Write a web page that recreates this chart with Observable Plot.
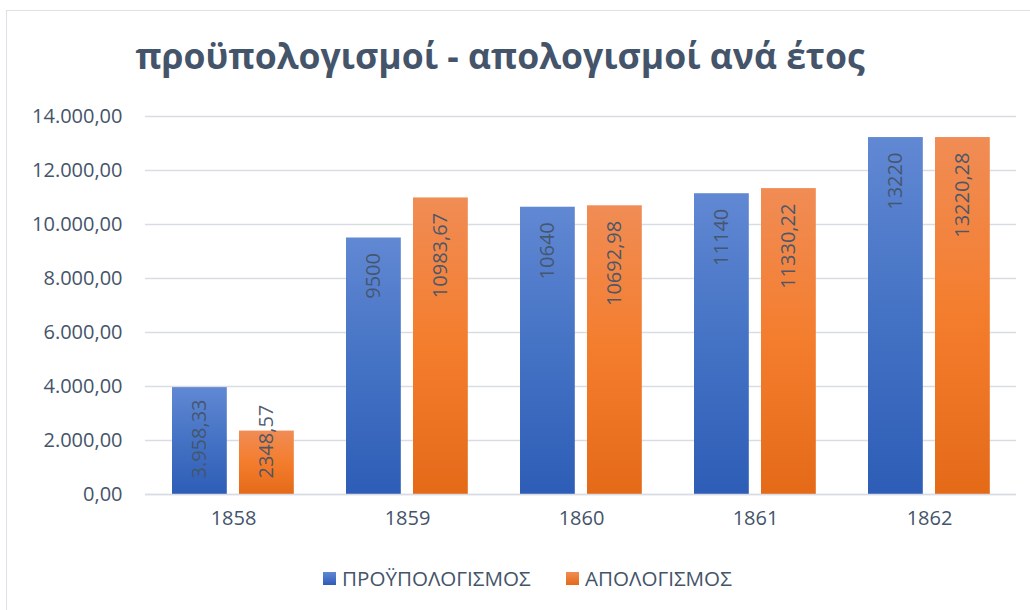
<!DOCTYPE html>
<html>
<head>
<meta charset="utf-8">
<script src="https://cdn.jsdelivr.net/npm/d3@7"></script>
<script src="https://cdn.jsdelivr.net/npm/@observablehq/plot@0.6"></script>
<style>
  html, body { margin: 0; padding: 0; background: #fff; width: 1030px; height: 610px; overflow: hidden; }
  body { position: relative; font-family: "Open Sans", sans-serif; color: #44546A; }
  #frame { position: absolute; left: 6px; top: 10px; width: 1200px; height: 800px; border-left: 1.5px solid #DDE1E6; border-top: 1.5px solid #DDE1E6; }
  #title { position: absolute; left: 0; top: 32px; width: 1000px; text-align: center; font-size: 35.5px; font-weight: 700; line-height: 46px; color: #44546A; }
  #chart { position: absolute; left: 0; top: 0; }
  #legend { position: absolute; top: 565px; left: 0; width: 1030px; height: 30px; font-size: 20.6px; color: #44546A; }
  .item { position: absolute; top: 0; display: flex; align-items: center; height: 26px; }
  .sw { width: 13px; height: 13px; margin-right: 6px; }
</style>
</head>
<body>
<div id="frame"></div>
<div id="title">προϋπολογισμοί - απολογισμοί ανά έτος</div>
<div id="chart"></div>
<div id="legend">
  <div class="item" style="left:323px"><div class="sw" style="background:linear-gradient(#6188D3,#2E5DB7)"></div><span>ΠΡΟΫΠΟΛΟΓΙΣΜΟΣ</span></div>
  <div class="item" style="left:566px"><div class="sw" style="background:linear-gradient(#F08C55,#E46A18)"></div><span>ΑΠΟΛΟΓΙΣΜΟΣ</span></div>
</div>
<script>
const years = ["1858", "1859", "1860", "1861", "1862"];
const seriesNames = ["ΠΡΟΫΠΟΛΟΓΙΣΜΟΣ", "ΑΠΟΛΟΓΙΣΜΟΣ"];
const budget = [3958.33, 9500, 10640, 11140, 13220];
const actual = [2348.57, 10983.67, 10692.98, 11330.22, 13220.28];
const budgetLabels = ["3.958,33", "9500", "10640", "11140", "13220"];
const actualLabels = ["2348,57", "10983,67", "10692,98", "11330,22", "13220,28"];
const yTicks = [0, 2000, 4000, 6000, 8000, 10000, 12000, 14000];

const data = [];
years.forEach((y, i) => {
  data.push({year: y, series: seriesNames[0], value: budget[i], label: budgetLabels[i]});
  data.push({year: y, series: seriesNames[1], value: actual[i], label: actualLabels[i]});
});
const b = data.filter(d => d.series === seriesNames[0]);
const a = data.filter(d => d.series === seriesNames[1]);
const fmt = v => {
  const s = v.toFixed(2).split(".");
  return s[0].replace(/\B(?=(\d{3})+(?!\d))/g, ".") + "," + s[1];
};
const SMALL = 5000;
const labelStyle = {fontSize: 20, fill: "#44546A", fillOpacity: 0.95, rotate: -90, fontFamily: "Open Sans"};

const chart = Plot.plot({
  width: 1030,
  height: 545,
  marginTop: 116,
  marginBottom: 51,
  marginLeft: 145,
  marginRight: 14,
  style: {fontFamily: "Open Sans", fontSize: "20px", color: "#44546A", background: "transparent", overflow: "visible"},
  x: {domain: years, padding: 0, label: null, tickSize: 0, tickPadding: 16},
  y: {domain: [0, 14000], ticks: yTicks, tickFormat: fmt, label: null, tickSize: 0, tickPadding: 23},
  marks: [
    Plot.ruleY(yTicks, {stroke: "#D9DDE3", strokeWidth: 1.5}),
    Plot.barY(b, {x: "year", y: "value", fill: "url(#gBlue)", insetLeft: 26, insetRight: 93.2}),
    Plot.barY(a, {x: "year", y: "value", fill: "url(#gOrange)", insetLeft: 93, insetRight: 26.2}),
    Plot.ruleY([0], {stroke: "#D9DDE3", strokeWidth: 1.5}),
    Plot.text(b.filter(d => d.value >= SMALL), {x: "year", y: "value", text: "label", textAnchor: "end", dx: -33.6, dy: 15, ...labelStyle}),
    Plot.text(a.filter(d => d.value >= SMALL), {x: "year", y: "value", text: "label", textAnchor: "end", dx: 33.4, dy: 15, ...labelStyle}),
    Plot.text(b.filter(d => d.value < SMALL), {x: "year", y: () => 0, text: "label", textAnchor: "start", dx: -33.6, dy: -16, ...labelStyle}),
    Plot.text(a.filter(d => d.value < SMALL), {x: "year", y: () => 0, text: "label", textAnchor: "start", dx: 33.4, dy: -16, ...labelStyle})
  ]
});

const defs = d3.select(chart).insert("defs", ":first-child");
const grad = (id, stops) => {
  const g = defs.append("linearGradient").attr("id", id).attr("x1", 0).attr("y1", 0).attr("x2", 0).attr("y2", 1);
  stops.forEach(([o, c]) => g.append("stop").attr("offset", o).attr("stop-color", c));
};
grad("gBlue", [[0, "#6188D3"], [0.5, "#4472C4"], [1, "#2E5DB7"]]);
grad("gOrange", [[0, "#F08C55"], [0.5, "#F47D2D"], [1, "#E46A18"]]);

d3.select(chart).selectAll("[aria-label='x-axis tick label'] text, [aria-label='y-axis tick label'] text").attr("fill", "#44546A");
document.getElementById("chart").appendChild(chart);
</script>
</body>
</html>
